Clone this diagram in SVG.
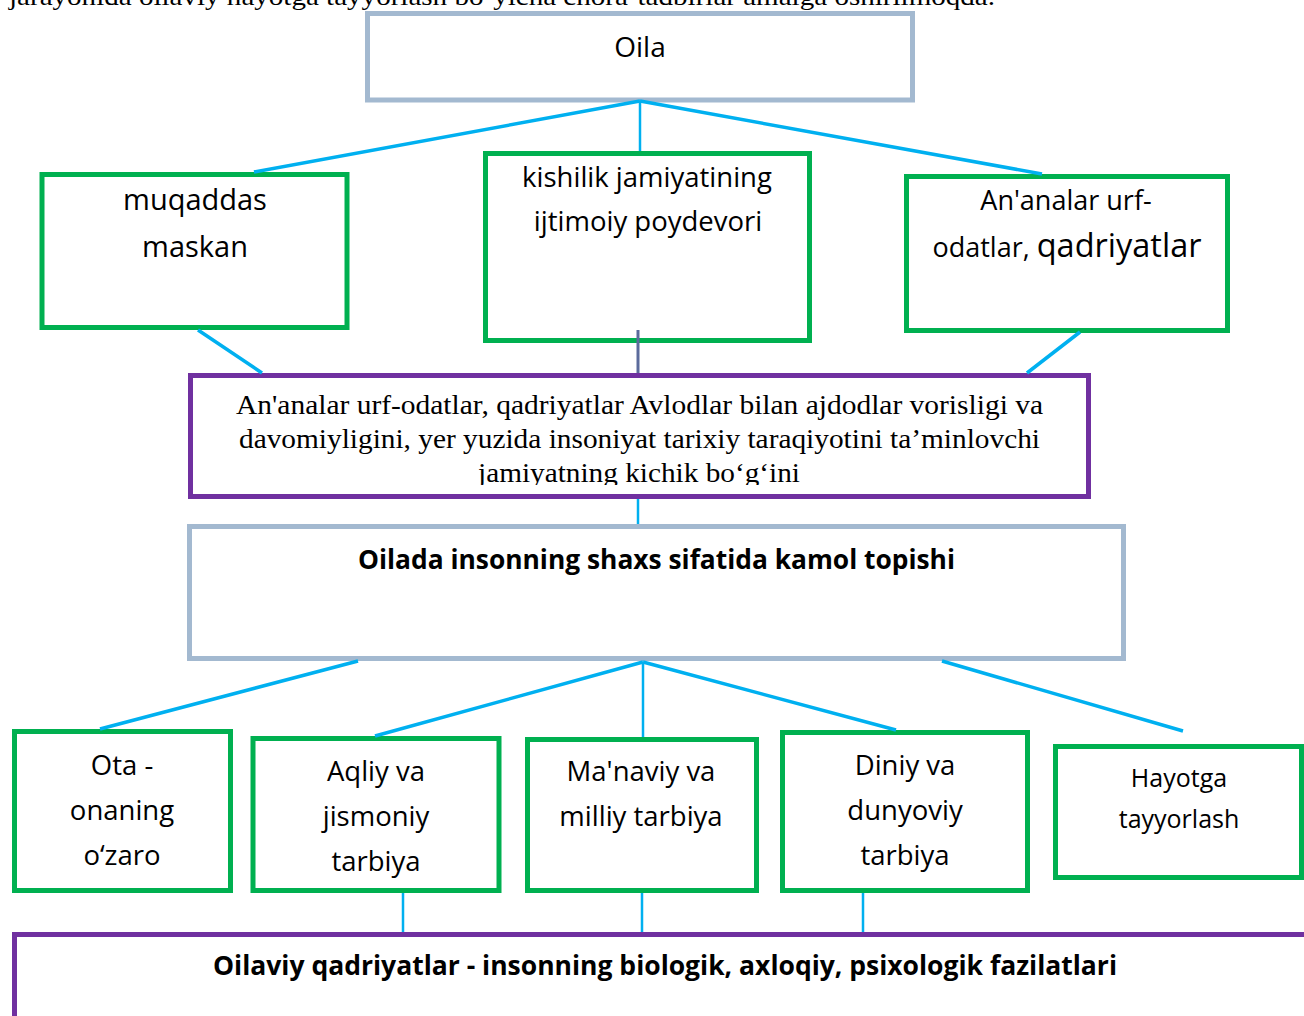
<svg xmlns="http://www.w3.org/2000/svg" width="1304" height="1016" viewBox="0 0 1304 1016">
<defs>
<style>
.box{fill:#fff;stroke-width:5}
.g{stroke:#00B050}
.p{stroke:#7030A0}
.s{stroke:#A3B9D0}
.t{font-family:"Open Sans","Noto Sans",sans-serif;fill:#000;text-anchor:middle}
.tb{font-family:"Open Sans","Noto Sans",sans-serif;font-weight:bold;fill:#000;text-anchor:middle}
.ser{font-family:"Liberation Serif","Times New Roman",serif;fill:#000;text-anchor:middle}
.c{stroke:#00B0F0;fill:none;stroke-width:3.5}
.v{stroke:#00B0F0;fill:none;stroke-width:2.5}
</style>
<clipPath id="clipP"><rect x="190" y="376" width="898" height="109"/></clipPath>
</defs>
<rect width="1304" height="1016" fill="#fff"/>
<text class="ser" x="9" y="5" font-size="26" text-anchor="start" textLength="986" lengthAdjust="spacingAndGlyphs" style="text-anchor:start">jarayonida oilaviy hayotga tayyorlash bo‘yicha chora-tadbirlar amalga oshirilmoqda.</text>

<g id="n-oila"><rect class="box s" x="367.5" y="13.5" width="545" height="86.5" stroke-width="4.5"/><text class="t" x="640" y="57" font-size="28">Oila</text></g>

<g id="n-muqaddas"><rect class="box g" x="42" y="174.5" width="305" height="153"/>
<text class="t" x="195" y="210" font-size="29">muqaddas</text><text class="t" x="195" y="257" font-size="29">maskan</text></g>

<g id="n-kishilik"><rect class="box g" x="485.5" y="153.5" width="324" height="187"/>
<text class="t" x="647" y="187" font-size="27.5">kishilik jamiyatining</text><text class="t" x="648" y="231" font-size="27.5">ijtimoiy poydevori</text></g>

<g id="n-ananalar"><rect class="box g" x="906.5" y="176.5" width="321" height="154"/>
<text class="t" x="1066" y="210" font-size="27">An'analar urf-</text>
<text class="t" x="1067" y="257" font-size="27">odatlar, <tspan font-size="32.5">qadriyatlar</tspan></text></g>

<g id="n-avlod"><rect class="box p" x="190.5" y="375.5" width="898" height="121"/>
<g clip-path="url(#clipP)">
<text class="ser" x="639.5" y="414" font-size="28" textLength="807" lengthAdjust="spacingAndGlyphs">An'analar urf-odatlar, qadriyatlar Avlodlar bilan ajdodlar vorisligi va</text>
<text class="ser" x="639.5" y="448" font-size="28" textLength="801" lengthAdjust="spacingAndGlyphs">davomiyligini, yer yuzida insoniyat tarixiy taraqiyotini ta’minlovchi</text>
<text class="ser" x="639" y="482" font-size="28" textLength="322" lengthAdjust="spacingAndGlyphs">jamiyatning kichik bo‘g‘ini</text>
</g></g>

<g id="n-oilada"><rect class="box s" x="189.5" y="526.5" width="934" height="132"/>
<text class="tb" x="656.5" y="569" font-size="26" textLength="597" lengthAdjust="spacingAndGlyphs">Oilada insonning shaxs sifatida kamol topishi</text></g>

<g id="n-ota"><rect class="box g" x="14.5" y="731.5" width="216" height="159"/>
<text class="t" x="122" y="775" font-size="27.5">Ota -</text><text class="t" x="122" y="820" font-size="27.5">onaning</text><text class="t" x="122" y="865" font-size="27.5">o‘zaro</text></g>

<g id="n-aqliy"><rect class="box g" x="253" y="738.5" width="246" height="152"/>
<text class="t" x="376" y="781" font-size="27.5">Aqliy va</text><text class="t" x="376" y="826" font-size="27.5">jismoniy</text><text class="t" x="376" y="871" font-size="27.5">tarbiya</text></g>

<g id="n-manaviy"><rect class="box g" x="527.5" y="739.5" width="229" height="151"/>
<text class="t" x="641" y="781" font-size="27.5">Ma'naviy va</text><text class="t" x="641" y="826" font-size="27.5">milliy tarbiya</text></g>

<g id="n-diniy"><rect class="box g" x="782.5" y="732.5" width="245" height="158"/>
<text class="t" x="905" y="775" font-size="27.5">Diniy va</text><text class="t" x="905" y="820" font-size="27.5">dunyoviy</text><text class="t" x="905" y="865" font-size="27.5">tarbiya</text></g>

<g id="n-hayotga"><rect class="box g" x="1055.5" y="746.5" width="246" height="131"/>
<text class="t" x="1179" y="787" font-size="25">Hayotga</text><text class="t" x="1179" y="828" font-size="25">tayyorlash</text></g>

<g id="n-oilaviy"><rect class="box p" x="14.5" y="934.5" width="1310" height="120"/>
<text class="tb" x="665" y="975" font-size="26" textLength="904" lengthAdjust="spacingAndGlyphs">Oilaviy qadriyatlar - insonning biologik, axloqiy, psixologik fazilatlari</text></g>

<g id="connectors">
<path class="c" d="M640,101 L254,172 M640,101 L1042,174"/>
<path class="v" d="M640,101 V151"/>
<path d="M638,330 V373" stroke="#5B6B9C" stroke-width="3" fill="none"/>
<path class="c" d="M198,330 L262,373 M1080,332 L1027,373"/>
<path class="v" d="M638,499 V524"/>
<path class="c" d="M358,661 L100,729 M643,662 L375,736 M643,662 L896,730 M942,661 L1183,731"/>
<path class="v" d="M643,662 V737"/>
<path class="v" d="M403,893 V932 M642,893 V932 M863,893 V932"/>
</g>
</svg>
